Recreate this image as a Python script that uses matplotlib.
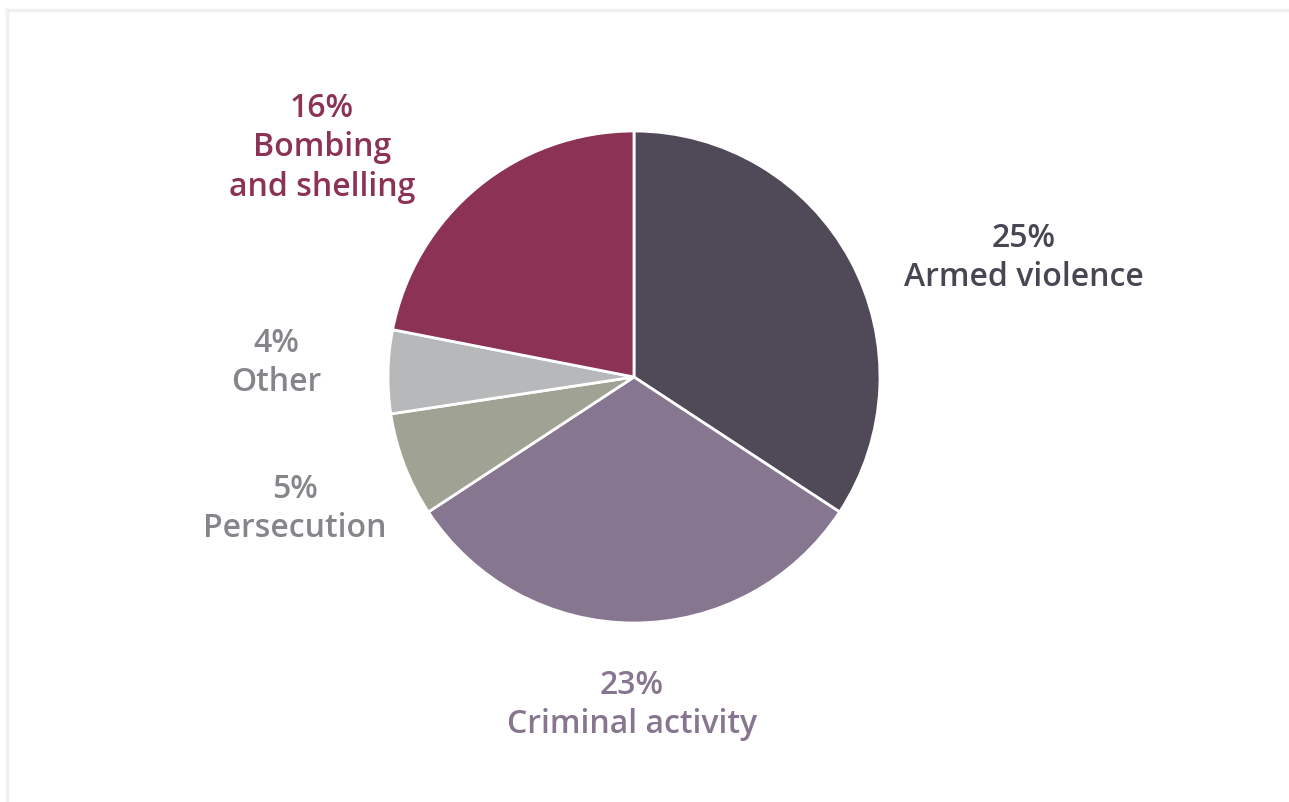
import matplotlib
matplotlib.use("Agg")
import matplotlib.pyplot as plt
from matplotlib.lines import Line2D

categories = ["Armed violence", "Criminal activity", "Persecution", "Other", "Bombing\nand shelling"]
values = [25, 23, 5, 4, 16]
slice_colors = ["#504a58", "#87768f", "#a0a294", "#b7b8ba", "#8c3254"]
label_colors = ["#4a4552", "#87768f", "#85868a", "#85868a", "#8c3254"]

W, H = 1289, 802
fig = plt.figure(figsize=(W / 100, H / 100), dpi=100)
fig.patch.set_facecolor("white")
ax = fig.add_axes([0, 0, 1, 1])

cx, cy, r = 634, H - 377, 246
ax.pie(values, colors=slice_colors, startangle=90, counterclock=False,
       center=(cx, cy), radius=r,
       wedgeprops=dict(edgecolor="white", linewidth=2), frame=True)
ax.set_xlim(0, W)
ax.set_ylim(0, H)
ax.set_aspect("equal")
ax.axis("off")

# frame lines (top and left)
ax.add_line(Line2D([7, W], [H - 10, H - 10], color="#f0f0f0", lw=2.5))
ax.add_line(Line2D([7, 7], [0, H - 10], color="#f0f0f0", lw=2.5))

label_pos = [(1024, 258), (632, 705), (295, 509), (276, 363), (322, 148)]
for cat, v, col, (x, y) in zip(categories, values, label_colors, label_pos):
    ax.text(x, H - y, f"{v}%\n{cat}", ha="center", va="center", color=col,
            fontsize=23, family="Open Sans", fontweight="semibold", linespacing=1.25)

fig.savefig("out.png", dpi=100, facecolor="white")
